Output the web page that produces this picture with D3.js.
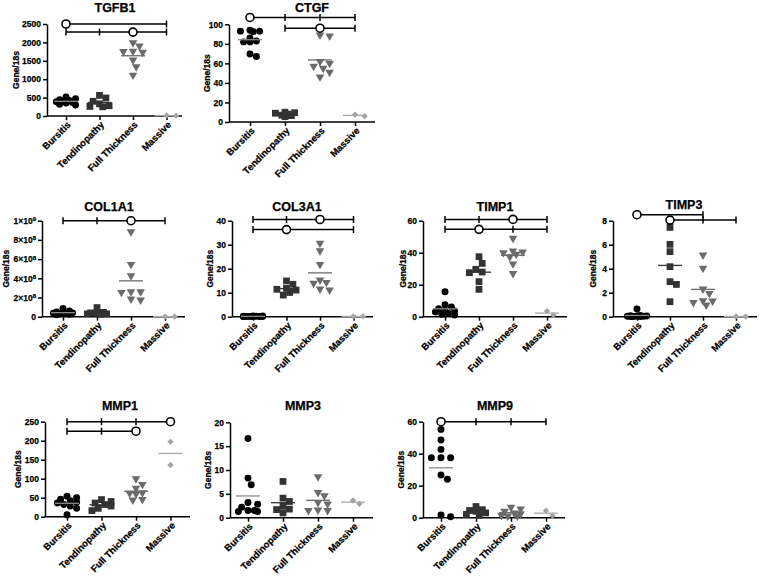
<!DOCTYPE html>
<html><head><meta charset="utf-8">
<script src="https://cdn.jsdelivr.net/npm/d3@7"></script>
<style>
body{margin:0;background:#fff}
svg{display:block}
text{font-family:Arial,"Liberation Sans",sans-serif;font-weight:bold;fill:#000;stroke:#000;stroke-width:0.25px}
</style>
</head><body>
<svg id="chart" width="760" height="577"></svg>
<script>
// ---------------- DATA ----------------
const categories = ["Bursitis", "Tendinopathy", "Full Thickness", "Massive"];
const genes = ["TGFB1", "CTGF", "COL1A1", "COL3A1", "TIMP1", "TIMP3", "MMP1", "MMP3", "MMP9"];

// each gene: [Bursitis, Tendinopathy, Full Thickness, Massive]
const TGFB1 = [[520, 470, 440, 420, 400, 390, 370, 350, 320, 300], [560, 490, 400, 330, 280, 260, 250], [1990, 1900, 1760, 1750, 1730, 1520, 1340, 1110], [15, 8]];
const CTGF = [[94, 93, 93, 92.5, 86, 83, 82, 82, 69.5, 67], [10, 9.5, 9, 8, 7, 6.5, 5.5], [89, 88, 62, 60, 57, 55, 51, 46], [7.5, 6]];
const COL1A1 = [[0.85e8, 0.6e8, 0.5e8, 0.45e8, 0.4e8, 0.35e8, 0.3e8, 0.3e8, 0.25e8, 0.2e8], [0.95e8, 0.45e8, 0.4e8, 0.35e8, 0.3e8, 0.3e8, 0.25e8], [8.85e8, 5.45e8, 4.27e8, 2.6e8, 2.6e8, 2.53e8, 1.84e8, 1.74e8], [0.01e8, 0.008e8]];
const COL3A1 = [[0.3, 0.25, 0.2, 0.15, 0.12, 0.1, 0.08, 0.06, 0.05, 0.03], [14.9, 13.5, 11.8, 11.4, 11.1, 10.1, 9.0], [30.6, 27.5, 21.8, 15.3, 14.3, 13.9, 11.5, 11.1], [0.15, 0.1]];
const TIMP1 = [[15.6, 7.5, 6, 5, 4, 3.5, 3, 2, 1.5, 1], [37.5, 33.3, 29.6, 27.9, 27.5, 21.9, 17.1], [49, 41, 40.5, 40, 39, 37.5, 33, 27], [3.5, 1]];
const TIMP3 = [[0.64, 0.1, 0.08, 0.06, 0.05, 0.04, 0.03, 0.02, 0.02, 0.01], [7.44, 6.03, 5.42, 4.17, 2.92, 2.69, 1.25], [5.14, 4.03, 2.31, 1.94, 1.33, 1.3, 1.19, 0.97], [0.02, 0.01]];
const MMP1 = [[54, 50, 46, 42, 38, 36, 32, 28, 22, 5], [45, 40, 36, 32, 28, 22, 16], [100, 85, 75, 63, 62, 60, 45, 44], [197, 136]];
const MMP3 = [[16.6, 8.3, 6.9, 3.2, 2.8, 2.2, 1.5, 1.3, 1.3, 1.5], [7.6, 4.1, 3.4, 2.4, 1.8, 1.7, 1.0], [8.6, 5.3, 4.6, 3.2, 2.9, 1.6, 1.5, 1.5], [3.6, 2.9]];
const MMP9 = [[55.2, 48.6, 42.7, 37.5, 37.5, 37.5, 26.7, 24, 1.7, 0.6], [7, 5, 4.5, 4, 3, 2, 1.5], [6.5, 5.5, 4, 3, 2.5, 1.5, 1, 1], [4.4, 1.25]];

// y-axis ticks
const tgfb1Ticks = [0, 500, 1000, 1500, 2000, 2500];
const ctgfTicks = [0, 20, 40, 60, 80, 100];
const col1a1Ticks = [0, 2e8, 4e8, 6e8, 8e8, 1e9];
const col1a1TickLabels = ["0", "2×10^8", "4×10^8", "6×10^8", "8×10^8", "1×10^9"];
const col3a1Ticks = [0, 10, 20, 30, 40];
const timp1Ticks = [0, 20, 40, 60];
const timp3Ticks = [0, 2, 4, 6, 8];
const mmp1Ticks = [0, 50, 100, 150, 200, 250];
const mmp3Ticks = [0, 5, 10, 15, 20];
const mmp9Ticks = [0, 20, 40, 60];

// significance brackets: [value, reference category index, compared category indices]
const tgfb1Brackets = [[2500, 0, [3]], [2280, 2, [0, 1, 3]]];
const ctgfBrackets = [[107, 0, [1, 2, 3]], [96, 2, [1, 3]]];
const col1a1Brackets = [[1e9, 2, [0, 1, 3]]];
const col3a1Brackets = [[40.5, 2, [0, 1, 3]], [36.3, 1, [0, 3]]];
const timp1Brackets = [[60.8, 2, [0, 1, 3]], [54.6, 1, [0, 2, 3]]];
const timp3Brackets = [[8.5, 0, [2]], [8.05, 1, [2, 3]]];
const mmp1Brackets = [[250, 3, [0, 1, 2]], [225, 2, [0, 1]]];
const mmp3Brackets = [];
const mmp9Brackets = [[60, 0, [1, 2, 3]]];

// ---------------- LAYOUT / STYLE ----------------
const panels = [
  {gene: "TGFB1", data: TGFB1, ticks: tgfb1Ticks, labels: null, brackets: tgfb1Brackets,
   ax: 47, y0: 116, yTop: 24, c0: 66, step: 33.5, end: 182, tx: 115, ty: 12, lx: 16},
  {gene: "CTGF", data: CTGF, ticks: ctgfTicks, labels: null, brackets: ctgfBrackets,
   ax: 229, y0: 122, yTop: 24.3, c0: 250, step: 35, end: 375, tx: 312, ty: 12, lx: 207},
  {gene: "COL1A1", data: COL1A1, ticks: col1a1Ticks, labels: col1a1TickLabels, brackets: col1a1Brackets,
   ax: 42, y0: 316.7, yTop: 220.7, c0: 63, step: 34, end: 185, tx: 109, ty: 210.5, lx: 6},
  {gene: "COL3A1", data: COL3A1, ticks: col3a1Ticks, labels: null, brackets: col3a1Brackets,
   ax: 232, y0: 316.7, yTop: 220.7, c0: 253, step: 33.5, end: 373, tx: 297, ty: 210.5, lx: 210},
  {gene: "TIMP1", data: TIMP1, ticks: timp1Ticks, labels: null, brackets: timp1Brackets,
   ax: 423, y0: 316.7, yTop: 220.7, c0: 445, step: 34, end: 567, tx: 495, ty: 210.5, lx: 403},
  {gene: "TIMP3", data: TIMP3, ticks: timp3Ticks, labels: null, brackets: timp3Brackets,
   ax: 613, y0: 316.7, yTop: 220.7, c0: 637, step: 33, end: 757, tx: 684, ty: 209, lx: 593},
  {gene: "MMP1", data: MMP1, ticks: mmp1Ticks, labels: null, brackets: mmp1Brackets,
   ax: 45, y0: 516.7, yTop: 421.7, c0: 67, step: 34.5, end: 190, tx: 120, ty: 409.5, lx: 18},
  {gene: "MMP3", data: MMP3, ticks: mmp3Ticks, labels: null, brackets: mmp3Brackets,
   ax: 230, y0: 517.7, yTop: 422.3, c0: 248, step: 35, end: 373, tx: 303, ty: 409.5, lx: 208},
  {gene: "MMP9", data: MMP9, ticks: mmp9Ticks, labels: null, brackets: mmp9Brackets,
   ax: 423, y0: 517.7, yTop: 421.7, c0: 441, step: 35, end: 565, tx: 495, ty: 409.5, lx: 401}
];

const markerColors = ["#000000", "#333333", "#6b6b6b", "#a3a3a3"];
const meanColors = ["#8a8a8a", "#333333", "#6b6b6b", "#a8a8a8"];
const symbols = [
  {type: d3.symbolCircle, size: 38, rot: 0},
  {type: d3.symbolSquare, size: 46, rot: 0},
  {type: d3.symbolTriangle, size: 32, rot: 180},
  {type: d3.symbolSquare, size: 20, rot: 45}
];

const svg = d3.select("#chart");

function dodge(vals, y, r, step, maxK) {
  const pts = vals.map(v => ({v: v, py: y(v)})).sort((a, b) => a.py - b.py);
  const placed = [];
  const cands = [0];
  for (let k = 1; k <= maxK; k++) { cands.push(k * step, -k * step); }
  for (const p of pts) {
    let best = 0, bestD = -1;
    for (const o of cands) {
      let minD = Infinity;
      for (const q of placed) {
        const d = Math.hypot(q.ox - o, q.py - p.py);
        if (d < minD) minD = d;
      }
      if (minD >= 2 * r) { best = o; break; }
      if (minD > bestD) { bestD = minD; best = o; }
    }
    p.ox = best;
    placed.push(p);
  }
  return pts;
}

panels.forEach(P => {
  const g = svg.append("g");
  const yMax = P.ticks[P.ticks.length - 1];
  const y = d3.scaleLinear().domain([0, yMax]).range([P.y0, P.yTop]);
  const x = d3.scalePoint().domain(categories).range([P.c0, P.c0 + 3 * P.step]);

  // title
  g.append("text").attr("x", P.tx).attr("y", P.ty).attr("text-anchor", "middle")
    .style("font-size", "12.5px").text(P.gene);

  // y axis
  const yAxis = d3.axisLeft(y).tickValues(P.ticks).tickSize(4).tickSizeOuter(0).tickPadding(2)
    .tickFormat((d, i) => P.labels ? "" : d3.format("d")(d));
  const ya = g.append("g").attr("transform", `translate(${P.ax},0)`).call(yAxis);
  ya.selectAll("path,line").attr("stroke", "#000").attr("stroke-width", 1.5);
  ya.selectAll("text").style("font-size", "8.5px").style("font-family", "Arial,'Liberation Sans',sans-serif")
    .style("font-weight", "bold").style("stroke", "#000").style("stroke-width", "0.25px");
  if (P.labels) {
    ya.selectAll(".tick text").each(function (d, i) {
      const t = d3.select(this);
      const lab = P.labels[i];
      if (lab.indexOf("^") >= 0) {
        const parts = lab.split("^");
        t.append("tspan").text(parts[0]);
        t.append("tspan").attr("dy", "-0.45em").style("font-size", "6px").text(parts[1]);
      } else {
        t.text(lab);
      }
    });
  }

  // y label
  const ym = (P.y0 + P.yTop) / 2;
  g.append("text").attr("transform", `translate(${P.lx},${ym}) rotate(-90)`)
    .attr("text-anchor", "middle").attr("dy", "0.35em").style("font-size", "8.5px").text("Gene/18s");

  // x axis
  const xAxis = d3.axisBottom(x).tickSize(4).tickSizeOuter(0).tickFormat("");
  const xa = g.append("g").attr("transform", `translate(0,${P.y0})`).call(xAxis);
  xa.select(".domain").remove();
  xa.selectAll("line").attr("stroke", "#000").attr("stroke-width", 1.5);
  g.append("line").attr("x1", P.ax).attr("x2", P.end).attr("y1", P.y0).attr("y2", P.y0)
    .attr("stroke", "#000").attr("stroke-width", 1.5);
  categories.forEach(c => {
    g.append("text").attr("transform", `translate(${x(c) + 3},${P.y0 + 7}) rotate(-45)`)
      .attr("text-anchor", "end").attr("dy", "0.35em").style("font-size", "9.5px").text(c);
  });

  // points
  P.data.forEach((vals, ci) => {
    const cx = x(categories[ci]);
    const pts = dodge(vals, y, 3.4, 3.2, 3);
    const sym = symbols[ci];
    const path = d3.symbol().type(sym.type).size(sym.size);
    g.append("g").selectAll("path").data(pts).join("path")
      .attr("d", path)
      .attr("transform", d => `translate(${cx + d.ox},${d.py}) rotate(${sym.rot})`)
      .attr("fill", markerColors[ci]);
    const m = d3.mean(vals);
    g.append("line").attr("x1", cx - 12).attr("x2", cx + 12).attr("y1", y(m)).attr("y2", y(m))
      .attr("stroke", meanColors[ci]).attr("stroke-width", 1.3);
  });

  // brackets
  P.brackets.forEach(b => {
    const [val, ref, comp] = b;
    const by = y(val);
    const idx = [ref].concat(comp);
    const xs = idx.map(i => x(categories[i]));
    const bx0 = d3.min(xs), bx1 = d3.max(xs);
    g.append("line").attr("x1", bx0).attr("x2", bx1).attr("y1", by).attr("y2", by)
      .attr("stroke", "#000").attr("stroke-width", 1.5);
    comp.forEach(i => {
      const cx = x(categories[i]);
      g.append("line").attr("x1", cx).attr("x2", cx).attr("y1", by - 3.5).attr("y2", by + 3.5)
        .attr("stroke", "#000").attr("stroke-width", 1.5);
    });
    g.append("circle").attr("cx", x(categories[ref])).attr("cy", by).attr("r", 4)
      .attr("fill", "#fff").attr("stroke", "#000").attr("stroke-width", 1.6);
  });
});
</script>
</body></html>
